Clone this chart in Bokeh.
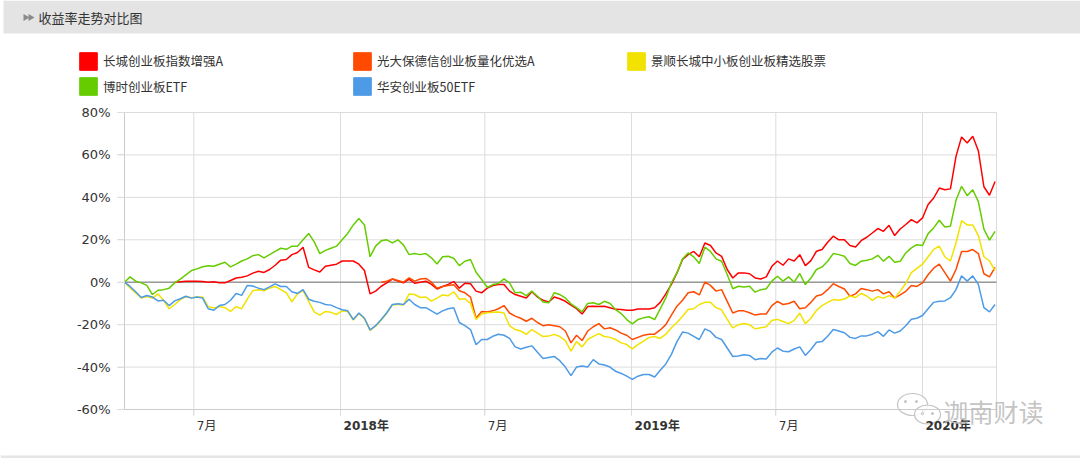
import math
import pandas as pd
from bokeh.plotting import figure
from bokeh.models import (Range1d, FixedTicker, PrintfTickFormatter, Label, BoxAnnotation,
                          Legend, LegendItem, CustomJSTickFormatter)
from bokeh.embed import file_html
from bokeh.resources import INLINE

# ---------------- data ----------------
start_date = "2017-04-05"          # first weekly observation
n_weeks = 157
red_start = 9                      # index of first value of the red fund
orange_start = 46                  # index of first value of the orange fund

names = ["长城创业板指数增强A", "光大保德信创业板量化优选A", "景顺长城中小板创业板精选股票",
         "博时创业板ETF", "华安创业板50ETF"]
colors = ["#ff0000", "#ff4a00", "#f2e200", "#66cc00", "#4d9be6"]

red = [
    0,
    0.2, 0.4, 0.5, 0.4, 0.3, 0, 0.2, -0.2, -0.3, 0.8,
    2, 2.3, 3, 4.3, 5.2, 4.6, 6, 8, 10.4, 10.7,
    13, 14, 16.5, 7, 5.8, 4.8, 7.5, 8, 8.5, 10,
    10, 10, 8.5, 5.5, -5.5, -4.2, -1.9, -0.3, 1.5, 0.5,
    -0.3, 1.5, -0.5, 0, 0.5, -1, -3.2, -2, -1, 0.3,
    -2.8, -0.5, -0.7, -4.2, -5, -2.8, -1.6, -1.1, -1.1, -4.2,
    -5.8, -6.6, -7.4, -4.5, -7, -8.5, -9.3, -7, -7.8, -9,
    -10.8, -12.5, -15, -11.5, -11.3, -11.5, -11.3, -12, -12.8, -12.9,
    -13.2, -13.2, -12.6, -12.6, -12.6, -12, -9.5, -5.5, -1, 4.4,
    10.7, 13, 14.5, 12, 18.5, 17.3, 13.8, 12.2, 6, 2,
    4.4, 4.4, 4, 2, 1.5, 2.5, 7.5, 10, 8, 11,
    10, 13, 7.8, 10.2, 14.6, 15.4, 18.8, 21.7, 20, 20,
    17.3, 16.6, 19.6, 21.2, 23.2, 25.3, 24, 26.8, 22, 25.1,
    27.2, 29.5, 28, 30.3, 36.6, 39.7, 44.4, 43.6, 44, 59.3,
    68.5, 65.6, 68.8, 62, 45, 41, 47.5,
]

orange = [
    0, 0.5, 1.5, 0.8,
    0, 2, 0.5, 1.5, 1.8, 0, -2.8, -2, -1.5, -1.2,
    -4, -5, -7, -17, -13.8, -14, -13.5, -12.5, -11, -14.5,
    -16, -17, -18.4, -17, -19, -20.5, -20, -20.5, -21, -23,
    -28.6, -25, -27.5, -23, -21, -19.5, -22, -21.5, -22.5, -24,
    -25, -27, -26, -25, -24.5, -24.5, -22.5, -20, -15.5, -11.3,
    -8.5, -5, -4.5, -6, 0, -1.5, -4.2, -3.5, -9, -14.5,
    -13.5, -13.5, -14.4, -15.5, -15, -15, -11, -9, -10.5, -10,
    -9, -12.5, -12, -9.5, -6.5, -5.8, -3.5, -0.7, -2, -3.2,
    -6.6, -5.5, -3, -3.5, -4.2, -3.5, -5.5, -4.5, -7.4, -6,
    -4.3, -1.5, -2, -0.3, 3.5, 6.6, 8.5, 4.5, 0.5, 6,
    14.5, 14.5, 15.4, 13.5, 4, 2.5, 7,
]

yellow = [
    0, -2.7, -5, -7.4, -6.8, -7.5, -5.5, -8.5, -12.5, -10.5,
    -8.2, -6.8, -7.3, -7, -7, -11.5, -12.2, -11.5, -12, -13.8,
    -11.5, -12.5, -8, -4, -3.5, -4, -2.8, -2, -3.5, -5,
    -9.2, -5.5, -4, -9, -14, -15.5, -13.8, -14.2, -15.2, -13.5,
    -13.8, -17.8, -14.8, -17.2, -22.7, -20.7, -17.8, -14.6, -10.7, -10.4,
    -10.7, -5.5, -5.8, -7.2, -7, -8.9, -7.5, -6, -6.4, -4.5,
    -8, -7.8, -10, -17.6, -15, -14.4, -14.2, -14, -14.5, -20.5,
    -22.3, -23, -24.6, -22.3, -24, -25.6, -25.4, -24.6, -25.6, -27.5,
    -32.5, -28, -30.5, -27, -25.5, -24.2, -25.6, -26, -27, -28.6,
    -29.4, -31.4, -29.4, -27.8, -26, -25.6, -26.5, -24.5, -21.5, -19,
    -16, -12.9, -12.5, -10.5, -9.5, -9.5, -12, -13, -17.5, -21.5,
    -20, -19.5, -20, -22, -21.5, -21, -18, -17.5, -18.5, -19.5,
    -18, -14.5, -19.5, -17, -13.3, -11, -9.5, -8.2, -8.5, -7.9,
    -6.5, -7.2, -5.3, -6.5, -8.6, -6.8, -7.5, -6.3, -7.5, -4.2,
    -0.5, 4.5, 6.5, 8.5, 12, 15.5, 17, 12, 10, 18.5,
    29, 27, 27, 22, 12, 10, 5.5,
]

green = [
    0, 2.5, 0.5, -0.3, -1.5, -5.8, -3.8, -3.5, -2.8, -0.3,
    1.5, 3.5, 5.5, 6.3, 7.3, 7.8, 7.5, 8.5, 9.4, 7.2,
    8.5, 10, 11, 12.5, 13, 11.5, 13, 14.5, 16, 15.5,
    17, 17, 20, 23, 19, 13.5, 15, 16, 17, 20,
    23, 27, 30, 27, 12, 17, 19.5, 20, 18.5, 20,
    17.5, 13, 13.5, 13, 13.5, 11.5, 8.6, 12, 12.2, 11.3,
    7.8, 9.9, 10.7, 4.7, 1.3, -2.4, -1.1, -0.6, 1.6, -0.3,
    -5, -4.7, -6.3, -4.2, -6.6, -9.3, -9.7, -5, -5.8, -7.4,
    -10.2, -12, -14, -10, -9.7, -10.5, -9, -10, -12.9, -14.8,
    -17.6, -19.6, -17.6, -16.8, -16.3, -17.6, -12.6, -7.4, -0.3, 4.4,
    11, 13.8, 12, 8.8, 16.5, 14.5, 11, 9.9, 3.6, -3.1,
    -1.9, -2.2, -1.9, -4.7, -3.5, -3.1, 0.5, 2.8, 0.5, 2.5,
    0, 4.1, -1.1, 2, 6, 7.2, 9.9, 13.5, 13, 12.2,
    8.8, 7.9, 9.9, 10.4, 11, 12.7, 9.9, 12.2, 9.4, 9.9,
    13.8, 16.2, 17.7, 17.3, 22.9, 25.6, 29.2, 26, 26.4, 38.6,
    45.2, 40.8, 43.6, 38, 25, 19.8, 24,
]

blue = [
    0, -2, -4.5, -7.2, -6.3, -7, -8.8, -8.5, -11, -8.8,
    -7.8, -6.6, -7.5, -7, -7.5, -12.5, -13.2, -11, -10.5, -8.5,
    -5.3, -6.2, -1.5, -1.8, -2.8, -3.5, -2.2, -0.8, -2, -2,
    -4.5, -5.3, -3.5, -8, -9, -9.5, -10.5, -10.8, -12, -13,
    -13.5, -17.6, -14.5, -17, -22.5, -20.5, -17.6, -14.4, -10.5, -10.2,
    -10.5, -8, -10.5, -12, -12, -13.5, -15, -13.5, -12.5, -12,
    -19, -20.5, -22.3, -29.5, -27, -27, -25.5, -24.5, -25, -26.5,
    -30.5, -31.5, -30.7, -30, -33, -36, -35.5, -35, -37, -40,
    -44, -40, -39.5, -40, -36.5, -38.5, -39, -40, -42, -43,
    -44.3, -45.8, -44.3, -43.5, -43.5, -44.7, -41.5, -38.5, -34, -28,
    -23.5, -24, -25.5, -27, -22, -23.2, -26, -27, -31, -35,
    -34.8, -34.2, -34.5, -36.5, -36, -36.2, -33, -31, -32.5, -32.8,
    -31.5, -30.5, -34.5, -31.7, -28.3, -28, -25.5, -22.3, -23, -23.8,
    -26, -26.5, -25.3, -25.3, -24.5, -23.3, -25.5, -22.5, -24, -23,
    -20.5, -17.5, -17, -15.7, -12.5, -9.5, -9, -8.8, -7.3, -3.5,
    3, 0.5, 3, -1, -12, -14, -10.5,
]

tick_dates = ["2017-07-01", "2018-01-01", "2018-07-01", "2019-01-01", "2019-07-01", "2020-01-01"]
tick_labels = ["7月", "2018年", "7月", "2019年", "7月", "2020年"]
tick_bold = [False, True, False, True, False, True]
y_ticks = [-60, -40, -20, 0, 20, 40, 60, 80]
x_start, x_end = "2017-04-05", "2020-04-02 19:00"
title_text = "收益率走势对比图"
watermark = "迦南财读"


def ms(d):
    return pd.Timestamp(d).value / 1e6


dates = list(pd.date_range(start_date, periods=n_weeks, freq="7D"))

# ---------------- layout geometry (page pixels) ----------------
W, H = 1080, 458
plot_left, plot_right, plot_top, plot_bottom = 124, 996, 112, 409
x0, x1 = ms(x_start), ms(x_end)
y0, y1 = y_ticks[0], y_ticks[-1]
kx = (x1 - x0) / (plot_right - plot_left)      # ms per pixel
ky = (y1 - y0) / (plot_bottom - plot_top)      # % per pixel


def xv(px):
    return x0 + (px - plot_left) * kx


def yv(py):
    return y1 - (py - plot_top) * ky


p = figure(width=W, height=H, x_axis_type="datetime",
           x_range=Range1d(xv(0), xv(W)), y_range=Range1d(yv(H), yv(0)),
           output_backend="svg", toolbar_location=None,
           min_border=0, min_border_left=0, min_border_right=0,
           min_border_top=0, min_border_bottom=0,
           background_fill_color="white", border_fill_color="white",
           outline_line_color=None)
p.grid.visible = False

# header band and bottom separator
p.add_layout(BoxAnnotation(left=xv(3), right=xv(W), bottom=yv(33), top=yv(0),
                           fill_color="#e4e4e4", fill_alpha=1, line_color=None,
                           level="underlay"))
p.add_layout(BoxAnnotation(left=xv(0), right=xv(W), bottom=yv(H), top=yv(455),
                           fill_color="#e6e6e6", fill_alpha=1, line_color=None,
                           level="underlay"))
p.scatter(x=[xv(25), xv(30)], y=[yv(17), yv(17)], marker="triangle", size=7,
          angle=-math.pi / 2, fill_color="#8a8a8a", line_color=None)
p.add_layout(Label(x=38, y=H - 17, x_units="screen", y_units="screen", text=title_text,
                   text_font="Noto Sans CJK SC", text_font_size="13px",
                   text_color="#333333", text_baseline="middle"))

# grid lines (with their small outward tick extension)
xt = [ms(d) for d in tick_dates]
grid_x = xt + [x1]
p.segment(x0=grid_x, y0=[y0 - 6 * ky] * len(xt) + [y0], x1=grid_x, y1=[y1] * len(grid_x),
          line_color="#dcdcdc", line_width=1)
p.segment(x0=[x0 - 7 * kx] * len(y_ticks), y0=y_ticks, x1=[x1] * len(y_ticks), y1=y_ticks,
          line_color="#dcdcdc", line_width=1)
p.segment(x0=[x0], y0=[0], x1=[x1], y1=[0], line_color="#9a9a9a", line_width=1.5)

# axes drawn at the plot-area edges
p.yaxis.fixed_location = x0
p.yaxis.bounds = (y0, y1)
p.yaxis.ticker = FixedTicker(ticks=y_ticks)
p.yaxis.formatter = PrintfTickFormatter(format="%d%%")
p.yaxis.major_tick_out = 7
p.yaxis.major_tick_in = 0
p.yaxis.minor_tick_line_color = None
p.yaxis.axis_line_color = "#cccccc"
p.yaxis.major_tick_line_color = "#dcdcdc"
p.yaxis.major_label_standoff = 7
p.yaxis.major_label_text_font = "DejaVu Sans"
p.yaxis.major_label_text_font_size = "13px"
p.yaxis.major_label_text_color = "#333333"

p.xaxis.fixed_location = y0
p.xaxis.bounds = (x0, x1)
p.xaxis.ticker = FixedTicker(ticks=xt)
p.xaxis.formatter = CustomJSTickFormatter(code="return ''")
p.xaxis.major_tick_out = 6
p.xaxis.major_tick_in = 0
p.xaxis.minor_tick_line_color = None
p.xaxis.axis_line_color = "#cccccc"
p.xaxis.major_tick_line_color = "#dcdcdc"

# series
series = [
    (dates[red_start:], red),
    (dates[orange_start:], orange),
    (dates, yellow),
    (dates, green),
    (dates, blue),
]
for (xs, ys), c in zip(series, colors):
    p.line(xs, ys, line_color=c, line_width=1.5)

# legend boxes (two-row grid like the original)
legend_pos = [(77, H - 71.5), (351, H - 71.5), (625, H - 71.5), (77, H - 97), (351, H - 97)]
for name, c, loc in zip(names, colors, legend_pos):
    dummy = p.rect(x=[ms("2000-01-01")], y=[0], width=1, height=1,
                   fill_color=c, line_color=c)
    lg = Legend(items=[LegendItem(label=name, renderers=[dummy])], location=loc,
                glyph_width=22, glyph_height=22, label_standoff=4, padding=0,
                margin=0, spacing=0, border_line_color=None, background_fill_alpha=0,
                label_text_font="Noto Sans CJK SC", label_text_font_size="12.5px",
                label_text_color="#333333", label_height=22,
                label_text_baseline="middle")
    p.add_layout(lg)

# x tick labels (left aligned at the gridline, years bold)
for d, txt, bold in zip(tick_dates, tick_labels, tick_bold):
    p.add_layout(Label(x=ms(d), y=H - 425, x_units="data", y_units="screen", x_offset=3,
                       text=txt, text_font="DejaVu Sans, Noto Sans CJK SC",
                       text_font_style="bold" if bold else "normal",
                       text_font_size="12px", text_color="#333333",
                       text_baseline="middle", text_align="left"))

# watermark (speech-bubble icon + text)
p.ellipse(x=[xv(912), xv(927)], y=[yv(404), yv(414)], width=[30 * kx, 26 * kx],
          height=[22 * ky, 19 * ky], fill_color="white", fill_alpha=0.85,
          line_color="#c4c4c4", line_width=1.2)
p.scatter(x=[xv(905), xv(916), xv(922), xv(932)], y=[yv(401), yv(401), yv(413), yv(413)],
          size=3, fill_color="#c4c4c4", line_color=None)
p.add_layout(Label(x=943, y=H - 410, x_units="screen", y_units="screen", text=watermark,
                   text_font="Noto Sans CJK SC", text_font_size="25px",
                   text_color="#bdbdbd", text_alpha=0.9, text_baseline="middle"))

open("out.html", "w").write(file_html(p, INLINE))
